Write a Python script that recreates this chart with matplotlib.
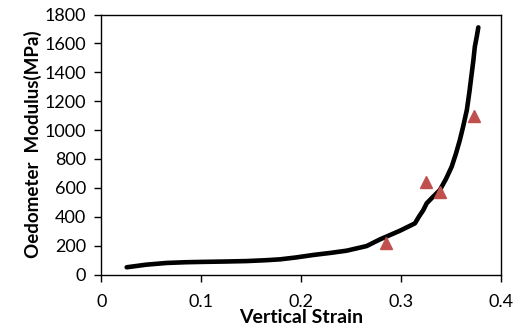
import matplotlib
matplotlib.use("Agg")
import matplotlib.pyplot as plt

# Model curve
strain_curve = [0.0254, 0.045, 0.0655, 0.085, 0.099, 0.125, 0.1456, 0.165, 0.179, 0.195,
                0.212, 0.23, 0.2457, 0.2657, 0.279, 0.299, 0.314, 0.318, 0.3224, 0.3258,
                0.331, 0.339, 0.345, 0.3508, 0.355, 0.359, 0.3625, 0.366, 0.3685, 0.3709,
                0.3725, 0.374, 0.376, 0.3775]
modulus_curve = [50, 68, 80, 85, 87, 90, 93, 99, 105, 118,
                 135, 150, 165, 197, 243, 303, 354, 400, 446, 493,
                 530, 585, 660, 746, 835, 931, 1030, 1139, 1260, 1393,
                 1480, 1577, 1650, 1711]

# Measured points
strain_meas = [0.285, 0.3248, 0.339, 0.3729]
modulus_meas = [216, 643, 573, 1100]

xticks = [0, 0.1, 0.2, 0.3, 0.4]
xticklabels = ["0", "0.1", "0.2", "0.3", "0.4"]
yticks = [0, 200, 400, 600, 800, 1000, 1200, 1400, 1600, 1800]

plt.rcParams['font.family'] = ['Lato', 'DejaVu Sans']

fig = plt.figure(figsize=(5.25, 3.28), dpi=100)
ax = fig.add_axes([101.3/525, 1 - 274.5/328, 399.5/525, 260/328])

ax.plot(strain_curve, modulus_curve, color='black', lw=3.3, solid_capstyle='round',
        solid_joinstyle='round', zorder=2)
ax.plot(strain_meas, modulus_meas, linestyle='none', marker='^', markersize=9,
        color='#C0504D', zorder=3)

ax.set_xlim(0, 0.4)
ax.set_ylim(0, 1800)
ax.set_xticks(xticks)
ax.set_xticklabels(xticklabels)
ax.set_yticks(yticks)
ax.tick_params(axis='both', direction='out', length=5, width=1, labelsize=13, pad=6)
ax.tick_params(axis='x', pad=9)
for s in ax.spines.values():
    s.set_linewidth(1)

ax.set_xlabel("Vertical Strain", fontsize=14, fontweight='bold', labelpad=-1)
ax.set_ylabel("Oedometer  Modulus(MPa)", fontsize=13.5, fontweight='bold', labelpad=2)

fig.savefig("out.png", dpi=100)
